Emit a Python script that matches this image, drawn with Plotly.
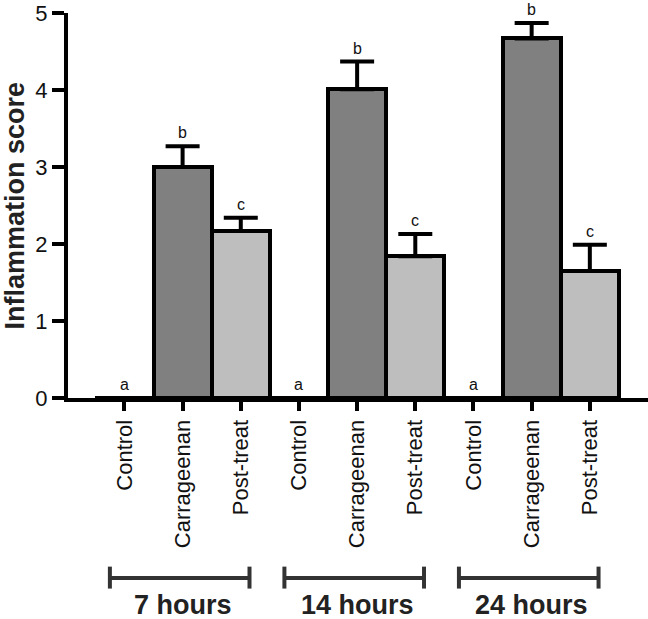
import plotly.graph_objects as go

groups = ['7 hours', '14 hours', '24 hours']
treatments = ['Control', 'Carrageenan', 'Post-treat']

control = [0, 0, 0]
carrageenan = [3.0, 4.01, 4.67]
carrageenan_err = [0.27, 0.36, 0.2]
post_treat = [2.17, 1.84, 1.65]
post_treat_err = [0.17, 0.29, 0.34]

letters = {'Control': ['a', 'a', 'a'],
           'Carrageenan': ['b', 'b', 'b'],
           'Post-treat': ['c', 'c', 'c']}

series = {'Control': (control, [0, 0, 0], 'white'),
          'Carrageenan': (carrageenan, carrageenan_err, '#808080'),
          'Post-treat': (post_treat, post_treat_err, '#bebebe')}

font = 'Arial, Liberation Sans, sans-serif'

fig = go.Figure()
tickvals, ticktext = [], []
for j, name in enumerate(treatments):
    vals, errs, color = series[name]
    xs = [3 * g + j for g in range(len(groups))]
    tickvals += xs
    ticktext += [name] * len(xs)
    fig.add_trace(go.Bar(x=xs, y=vals, width=1, name=name,
                         marker=dict(color=color, line=dict(color='black', width=4)),
                         error_y=dict(type='data', array=errs, arrayminus=[0] * len(errs),
                                      symmetric=False, visible=(name != 'Control'),
                                      color='black', thickness=4, width=17),
                         showlegend=False))
    for x, v, e, lab in zip(xs, vals, errs, letters[name]):
        fig.add_annotation(x=x, y=v + e, text=lab, showarrow=False,
                           yanchor='bottom', yshift=3,
                           font=dict(family=font, size=16, color='#111'))

order = sorted(range(len(tickvals)), key=lambda i: tickvals[i])
tickvals = [tickvals[i] for i in order]
ticktext = [ticktext[i] for i in order]

# group brackets under the tick labels
for g, label in enumerate(groups):
    x0, x1 = 3 * g - 0.25, 3 * g + 2.15
    yb = -0.4675
    fig.add_shape(type='line', xref='x', yref='paper', x0=x0, x1=x1, y0=yb, y1=yb,
                  line=dict(color='#333', width=4))
    for xe in (x0, x1):
        fig.add_shape(type='line', xref='x', yref='paper', x0=xe, x1=xe,
                      y0=-0.438, y1=-0.495, line=dict(color='#333', width=4))
    fig.add_annotation(x=3 * g + 1, y=-0.537, xref='x', yref='paper', text=label,
                       showarrow=False, yanchor='middle', xanchor='center',
                       font=dict(family=font, size=27, color='#222', weight='bold'))

fig.add_annotation(x=-0.0914, y=0.5, xref='paper', yref='paper',
                   text='Inflammation score', textangle=-90, showarrow=False,
                   xanchor='center', yanchor='middle',
                   font=dict(family=font, size=27, color='#222', weight='bold'))

fig.update_layout(width=648, height=619, template='plotly_white',
                  margin=dict(l=68, r=0, t=13, b=221),
                  plot_bgcolor='white', paper_bgcolor='white',
                  barmode='overlay', bargap=0)
fig.update_xaxes(range=[-0.97, 9.0], tickvals=tickvals, ticktext=ticktext,
                 tickangle=-90, showgrid=False, zeroline=False, automargin=False,
                 showline=True, linecolor='black', linewidth=4,
                 ticks='outside', ticklen=9, tickwidth=4, tickcolor='black',
                 tickfont=dict(family=font, size=22, color='#111'))
fig.update_yaxes(range=[0, 5], dtick=1, showgrid=False, zeroline=False, automargin=False,
                 showline=True, linecolor='black', linewidth=4,
                 ticks='outside', ticklen=12, tickwidth=4, tickcolor='black',
                 tickfont=dict(family=font, size=22, color='#111'))

# drop the browser's default 8px body margin so the figure fills the window
fig.write_html('out.html', config={'displayModeBar': False},
               post_script="document.body.style.margin='0';")
